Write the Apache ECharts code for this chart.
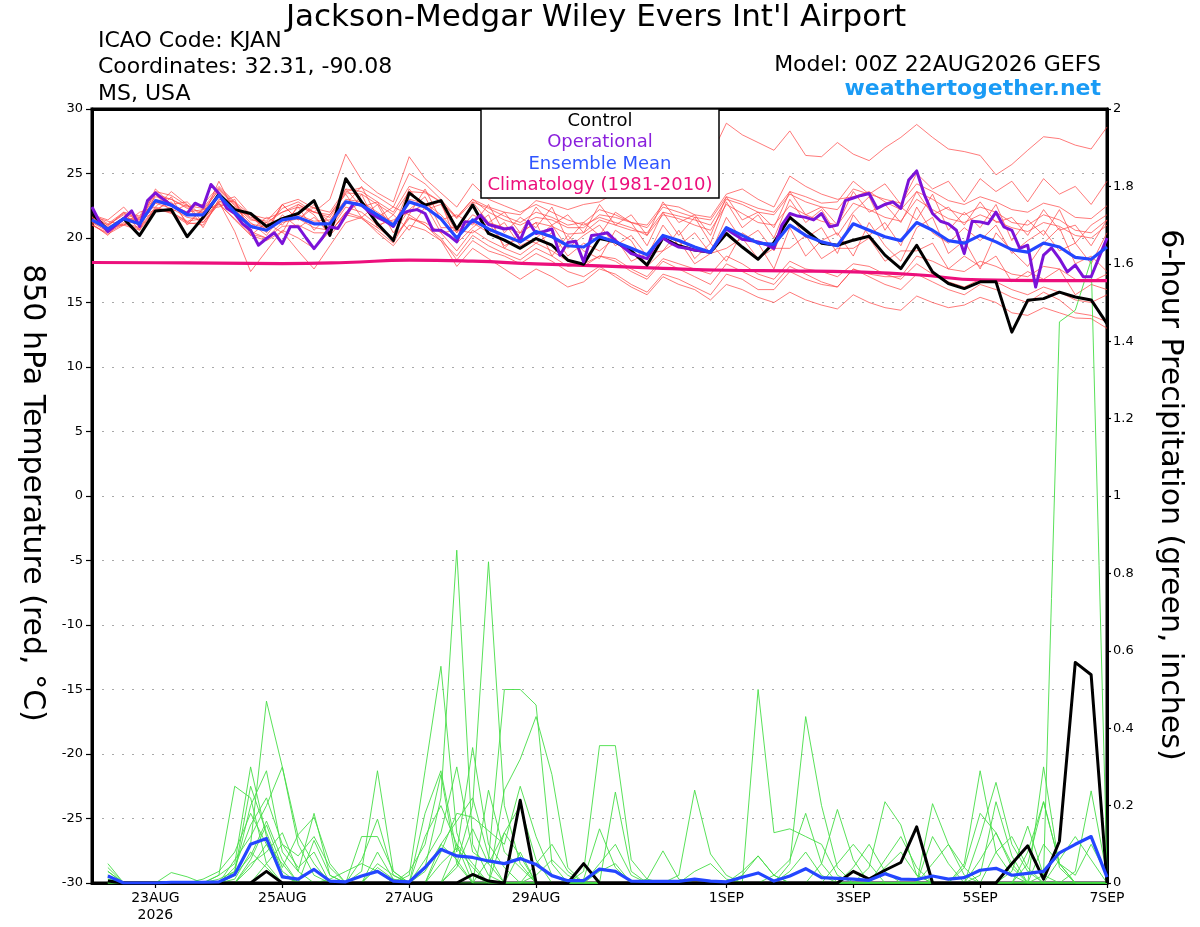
<!DOCTYPE html>
<html>
<head>
<meta charset="utf-8">
<title>KJAN GEFS 850 hPa temperature and precipitation</title>
<script src="https://cdn.jsdelivr.net/npm/echarts@6.0.0/dist/echarts.min.js"></script>
<style>
  html, body { margin: 0; padding: 0; background: #fff; }
  #chart { width: 1200px; height: 927px; }
</style>
</head>
<body>
<div id="chart"></div>
<script>
// x axis: hours after 00Z 22AUG2026
var xTickHours = [24, 72, 120, 168, 240, 288, 336, 384];
var xTickLabels = ['23AUG\n2026', '25AUG', '27AUG', '29AUG', '1SEP', '3SEP', '5SEP', '7SEP'];

// control run, 850 hPa temperature, every 6 h from 0 h
var controlTemp = [
  21.9, 20.6, 21.5, 20.2, 22.1, 22.2, 20.1, 21.6,
  23.4, 22.2, 21.9, 20.9, 21.5, 21.9, 22.9, 20.2,
  24.6, 22.8, 21.1, 19.8, 23.5, 22.55, 22.9, 20.7,
  22.55, 20.35, 19.83, 19.2, 19.96, 19.44, 18.28, 17.97,
  19.96, 19.7, 19.0, 17.9, 20.0, 19.4, 19.06, 18.9,
  20.35, 19.3, 18.35, 19.65, 21.6, 20.6, 19.6, 19.44,
  19.83, 20.14, 18.67, 17.63, 19.44, 17.37, 16.47, 16.08,
  16.6, 16.6, 12.7, 15.17, 15.3, 15.8, 15.43, 15.2, 13.36
];

// ensemble mean temperature, every 6 h from 0 h
var meanTemp = [
  21.4, 20.7, 21.5, 21.1, 22.9, 22.55, 21.8, 21.8,
  23.3, 22.0, 20.9, 20.6, 21.4, 21.6, 21.1, 21.1,
  22.8, 22.55, 21.8, 21.0, 22.8, 22.4, 21.5, 20.0,
  21.4, 20.7, 20.2, 19.7, 20.5, 20.1, 19.4, 19.3,
  20.1, 19.7, 19.2, 18.7, 20.2, 19.8, 19.3, 18.9,
  20.8, 20.2, 19.6, 19.5, 21.0, 20.2, 19.7, 19.4,
  21.1, 20.6, 20.1, 19.8, 21.2, 20.6, 19.8, 19.6,
  20.2, 19.7, 19.1, 18.9, 19.6, 19.3, 18.5, 18.35, 19.3
];

// operational run temperature, every 3 h from 0 h
var operationalTemp = [
  22.4, 21.2, 20.5, 21.0, 21.5, 22.1, 20.9, 22.9, 23.5, 23.0, 22.55, 22.2, 21.9, 22.7, 22.4, 24.15,
  23.45, 22.3, 21.9, 21.1, 20.6, 19.44, 19.96, 20.4, 19.57, 20.87, 20.87, 20.0, 19.18, 19.96, 20.87, 20.74,
  21.77, 22.68, 22.55, 22.0, 21.6, 21.3, 20.9, 21.9, 22.1, 22.2, 21.9, 20.6, 20.6, 20.2, 19.7, 21.25,
  21.25, 21.77, 21.05, 20.87, 20.7, 20.8, 19.83, 21.3, 20.35, 20.5, 20.7, 18.67, 19.65, 19.75, 18.15, 20.2,
  20.27, 20.4, 19.8, 19.3, 18.8, 18.6, 18.4, 19.4, 20.0, 19.6, 19.3, 19.2, 19.06, 19.0, 18.9, 19.8,
  20.7, 20.3, 19.9, 19.8, 19.7, 19.5, 19.2, 21.0, 21.9, 21.7, 21.6, 21.4, 21.9, 20.87, 21.0, 22.9,
  23.1, 23.3, 23.45, 22.3, 22.6, 22.8, 22.3, 24.5, 25.2, 23.3, 21.9, 21.3, 21.1, 20.6, 18.8, 21.3,
  21.25, 21.1, 22.0, 20.87, 20.6, 19.2, 19.44, 16.2, 18.67, 19.24, 18.4, 17.37, 17.9, 17.0, 17.0, 18.5,
  20.0
];

// 1981-2010 climatology, every 24 h from 0 h
var climHours = [0, 24, 48, 72, 96, 120, 144, 168, 192, 216, 240, 264, 288, 312, 336, 360, 384];
var climTemp = [18.1, 18.08, 18.05, 18.02, 18.1, 18.28, 18.2, 18.0, 17.84, 17.65, 17.5, 17.45, 17.37, 17.15, 16.75, 16.7, 16.7];

// ensemble members, temperature, every 6 h from 0 h
var redMembers = [
  [21.8, 21.0, 21.9, 21.6, 23.4, 23.0, 22.3, 22.0, 23.8, 22.6, 21.5, 21.0, 22.3, 22.8, 22.0, 21.6,
   23.5, 23.4, 22.6, 21.8, 23.6, 23.5, 22.8, 21.6, 23.0, 22.4, 22.0, 21.8, 22.9, 22.6, 22.2, 22.6,
   22.8, 23.5, 24.6, 24.0, 25.5, 26.2, 26.8, 26.3, 28.9, 28.0, 27.4, 26.8, 28.3, 26.4, 26.3, 27.4,
   26.5, 26.0, 27.0, 27.8, 28.8, 27.8, 26.9, 26.7, 26.4, 24.9, 25.7, 26.8, 27.85, 27.7, 27.2, 26.9, 28.6],
  [21.0, 20.3, 21.0, 20.6, 22.2, 22.0, 21.2, 21.0, 22.8, 20.5, 17.4, 19.0, 20.6, 20.0, 19.2, 20.5,
   21.8, 21.5, 20.6, 19.6, 21.8, 21.0, 20.0, 18.3, 19.8, 19.0, 18.6, 18.0, 18.8, 18.2, 17.4, 17.0,
   17.8, 17.0, 16.2, 15.6, 17.0, 16.4, 16.0, 15.2, 16.4, 16.0, 15.4, 15.0, 15.8, 15.2, 14.8, 14.5,
   15.6, 15.0, 14.6, 14.4, 15.5, 15.0, 14.6, 14.8, 15.4, 15.0, 14.2, 14.0, 14.6, 14.2, 13.8, 13.75, 13.0],
  [21.2, 20.5, 21.2, 20.8, 22.4, 22.0, 21.3, 21.5, 22.7, 21.4, 20.2, 19.8, 20.5, 19.0, 17.6, 19.4,
   21.2, 21.6, 20.4, 19.4, 21.0, 20.6, 19.8, 18.6, 20.2, 19.4, 18.8, 18.3, 19.2, 18.6, 17.8, 18.0,
   18.6, 18.4, 17.6, 17.0, 18.4, 18.0, 17.6, 17.2, 18.6, 18.0, 17.2, 16.8, 18.2, 17.6, 17.4, 17.0,
   18.0, 17.8, 17.2, 16.8, 18.0, 17.2, 16.6, 16.2, 16.8, 16.6, 16.0, 15.6, 16.2, 15.8, 15.2, 15.0, 15.6],
  [21.6, 21.0, 21.8, 21.5, 23.2, 23.0, 22.4, 22.6, 24.0, 22.8, 21.8, 21.5, 22.0, 22.4, 22.0, 23.0,
   26.5, 24.5, 23.5, 22.8, 26.3, 24.6, 23.5, 22.4, 24.2, 23.0, 22.5, 22.0, 22.6, 22.0, 21.4, 21.0,
   21.6, 21.2, 20.8, 20.2, 21.8, 21.5, 21.0, 20.6, 22.6, 21.9, 21.2, 21.0, 22.5, 21.8, 21.3, 21.0,
   22.7, 22.2, 21.6, 21.3, 23.0, 22.2, 21.5, 21.2, 21.8, 21.3, 20.8, 20.5, 21.2, 20.9, 20.2, 20.0, 21.0],
  [21.1, 20.2, 21.6, 21.4, 22.0, 23.2, 21.0, 22.3, 22.4, 23.0, 20.2, 21.2, 20.4, 22.6, 21.8, 20.2,
   21.6, 23.4, 20.8, 21.8, 20.6, 22.4, 22.8, 19.6, 20.8, 21.8, 19.2, 20.4, 21.2, 18.6, 20.2, 19.0,
   18.4, 20.6, 19.8, 17.8, 19.0, 20.6, 18.4, 19.6, 18.2, 20.4, 19.6, 17.6, 20.8, 18.6, 19.8, 20.4,
   18.6, 21.2, 19.4, 18.2, 20.8, 21.6, 18.8, 19.8, 17.6, 20.4, 19.0, 17.8, 19.6, 20.8, 18.0, 18.6, 17.4],
  [21.7, 21.3, 21.0, 22.0, 22.4, 23.6, 22.6, 21.2, 22.8, 23.2, 21.8, 20.4, 22.6, 21.4, 22.6, 20.8,
   22.6, 24.0, 21.6, 22.4, 21.8, 23.8, 21.4, 21.8, 21.0, 22.6, 20.4, 21.6, 20.8, 22.4, 19.8, 21.2,
   20.2, 22.0, 21.2, 19.4, 22.0, 20.2, 21.6, 19.6, 22.8, 20.8, 21.8, 20.0, 23.0, 21.2, 22.2, 20.2,
   22.0, 23.2, 20.6, 22.4, 21.4, 23.4, 20.6, 22.0, 20.8, 22.6, 19.8, 21.4, 20.2, 22.2, 19.6, 21.0, 21.8],
  [21.3, 20.6, 21.4, 21.0, 22.7, 22.3, 21.6, 21.4, 22.9, 21.8, 20.5, 20.0, 21.2, 21.5, 20.8, 20.6,
   22.4, 22.0, 21.0, 20.0, 21.6, 21.0, 19.8, 17.8, 19.2, 18.4, 17.6, 16.8, 17.6, 17.0, 16.2, 16.6,
   17.6, 17.2, 16.4, 15.8, 17.2, 16.8, 16.2, 15.6, 17.2, 16.8, 16.0, 16.0, 17.4, 16.8, 16.4, 16.2,
   17.6, 17.2, 17.0, 17.0, 18.6, 18.2, 17.6, 17.4, 18.2, 17.8, 17.2, 17.0, 17.8, 17.6, 16.8, 16.6, 17.2],
  [21.5, 20.8, 21.6, 21.2, 22.8, 22.5, 21.8, 22.0, 23.3, 22.1, 21.1, 20.8, 21.5, 21.8, 21.3, 21.4,
   23.0, 22.8, 22.0, 21.2, 23.0, 22.7, 21.8, 20.4, 21.8, 21.2, 20.8, 20.4, 21.2, 20.9, 20.3, 20.4,
   21.4, 21.0, 20.6, 20.4, 22.0, 21.7, 21.4, 21.0, 23.0, 22.6, 22.0, 21.8, 23.4, 22.8, 22.4, 22.2,
   23.8, 23.4, 23.0, 22.7, 24.2, 23.6, 22.9, 22.6, 23.2, 22.8, 22.2, 22.0, 22.7, 22.4, 21.6, 21.5, 22.5],
  [21.9, 21.1, 22.0, 21.7, 23.6, 23.3, 22.5, 22.3, 23.9, 22.7, 21.6, 21.3, 22.6, 23.0, 22.3, 22.0,
   23.8, 23.6, 22.8, 22.0, 24.0, 23.6, 22.8, 21.5, 22.8, 22.3, 21.7, 21.2, 22.0, 21.6, 21.0, 21.2,
   22.2, 21.8, 21.2, 20.8, 22.4, 22.0, 21.6, 21.4, 23.2, 22.8, 22.3, 22.0, 23.6, 23.2, 22.7, 22.8,
   24.4, 23.4, 24.2, 22.6, 25.0, 23.8, 24.4, 22.8, 24.6, 23.6, 24.4, 22.8, 24.6, 23.4, 24.0, 22.6, 24.4],
  [21.0, 20.4, 21.1, 20.7, 22.3, 21.9, 21.1, 21.2, 22.6, 21.5, 20.3, 20.0, 20.9, 21.0, 20.4, 20.4,
   22.0, 21.6, 20.8, 19.9, 21.5, 21.2, 20.4, 19.0, 20.6, 19.8, 19.2, 18.7, 19.6, 19.0, 18.2, 17.8,
   18.6, 18.2, 17.4, 16.8, 18.2, 17.6, 17.0, 16.4, 18.0, 17.4, 16.8, 16.4, 17.8, 17.2, 16.6, 16.2,
   17.6, 17.0, 16.4, 16.0, 17.2, 16.6, 16.0, 15.6, 16.4, 16.0, 15.4, 15.0, 15.8, 15.2, 14.2, 14.0, 13.5],
  [21.4, 20.9, 22.0, 20.6, 23.4, 22.0, 22.6, 20.8, 23.0, 22.8, 20.6, 21.6, 21.0, 22.4, 20.6, 21.8,
   23.4, 21.6, 22.6, 20.4, 22.2, 23.2, 20.8, 20.8, 21.2, 20.4, 21.2, 19.4, 20.0, 21.0, 19.2, 20.2,
   21.0, 19.4, 20.2, 18.6, 21.0, 19.4, 20.4, 18.8, 21.6, 19.8, 20.6, 19.0, 21.8, 20.0, 20.8, 18.8,
   21.8, 20.2, 21.2, 19.4, 22.4, 20.4, 19.6, 20.8, 19.8, 21.0, 18.8, 19.8, 20.6, 19.0, 19.6, 18.0, 20.4],
  [21.6, 20.8, 21.5, 21.4, 23.0, 22.6, 22.0, 22.2, 23.7, 22.5, 21.4, 21.2, 22.0, 22.6, 22.0, 21.8,
   23.6, 23.9, 23.2, 22.4, 25.0, 24.2, 23.0, 21.6, 23.0, 22.0, 21.4, 21.0, 21.6, 21.4, 20.8, 20.8,
   21.8, 21.6, 21.2, 21.0, 22.6, 22.4, 21.8, 21.6, 23.4, 23.8, 23.0, 22.4, 24.8, 24.0, 23.4, 23.0,
   23.2, 23.6, 22.8, 22.2, 23.6, 23.0, 22.2, 21.8, 22.4, 22.0, 21.2, 21.0, 21.8, 21.4, 20.6, 20.4, 21.4],
  [21.2, 20.8, 21.0, 21.6, 22.2, 22.8, 21.2, 22.2, 22.6, 22.4, 21.2, 20.2, 21.8, 20.8, 21.6, 20.4,
   22.0, 22.8, 21.0, 21.4, 22.0, 22.6, 20.4, 20.6, 20.4, 21.2, 19.4, 20.0, 19.6, 20.4, 18.6, 19.6,
   19.0, 20.0, 18.2, 18.8, 19.0, 19.8, 18.0, 18.8, 19.2, 20.0, 18.4, 19.2, 19.2, 20.2, 18.4, 19.2,
   19.2, 20.0, 18.2, 19.0, 19.0, 19.6, 17.6, 18.6, 17.8, 18.6, 16.6, 17.4, 16.8, 17.6, 15.6, 16.4, 16.0],
  [21.8, 21.4, 22.4, 21.0, 23.8, 22.6, 22.8, 21.6, 24.4, 22.0, 21.8, 20.6, 22.6, 21.4, 22.4, 21.2,
   23.8, 22.4, 22.8, 20.8, 23.8, 22.2, 22.6, 20.4, 22.8, 21.2, 22.0, 20.4, 22.4, 21.0, 21.8, 20.4,
   22.6, 21.0, 21.8, 20.2, 22.8, 21.2, 21.8, 20.2, 23.2, 21.4, 22.0, 20.8, 23.6, 21.8, 22.4, 21.0,
   23.6, 22.0, 22.6, 21.2, 23.6, 21.8, 22.4, 21.0, 22.8, 21.2, 21.6, 20.2, 22.2, 20.6, 21.0, 19.4, 21.4]
];

// control run 6-hour precipitation, every 6 h from 6 h
var controlPrecip = [
  0.005, 0, 0, 0, 0, 0, 0, 0, 0, 0, 0.03, 0, 0, 0, 0, 0,
  0, 0, 0, 0, 0, 0, 0, 0.022, 0.005, 0, 0.214, 0, 0, 0, 0.05, 0,
  0, 0, 0, 0, 0, 0, 0, 0, 0, 0, 0, 0, 0, 0, 0, 0.03,
  0.01, 0.033, 0.053, 0.145, 0, 0, 0, 0, 0, 0.05, 0.096, 0.01, 0.108, 0.57, 0.538, 0
];

// ensemble mean 6-hour precipitation, every 6 h from 6 h
var meanPrecip = [
  0.018, 0, 0, 0, 0.002, 0.002, 0.002, 0.003,
  0.022, 0.10, 0.115, 0.016, 0.01, 0.035, 0.005, 0.003,
  0.018, 0.03, 0.005, 0.003, 0.04, 0.087, 0.07, 0.066,
  0.057, 0.05, 0.063, 0.048, 0.019, 0.006, 0.006, 0.036,
  0.03, 0.005, 0.004, 0.004, 0.004, 0.01, 0.005, 0.003,
  0.015, 0.026, 0.005, 0.018, 0.037, 0.014, 0.012, 0.01,
  0.007, 0.024, 0.01, 0.009, 0.018, 0.01, 0.014, 0.033,
  0.038, 0.02, 0.025, 0.03, 0.078, 0.1, 0.12, 0.015
];

// ensemble members precipitation: [hour, inches], hours not listed are dry
var greenMembers = [
  [[6, 0.04], [48, 0.02], [54, 0.05], [60, 0.3], [66, 0.12], [72, 0.02], [126, 0.04], [132, 0.22], [138, 0.86], [144, 0.1], [150, 0.02], [192, 0.03], [198, 0.05], [330, 0.05], [336, 0.29], [342, 0.08], [348, 0.02]],
  [[6, 0.03], [54, 0.02], [60, 0.1], [66, 0.47], [72, 0.3], [78, 0.1], [84, 0.02], [138, 0.05], [144, 0.2], [150, 0.83], [156, 0.2], [162, 0.05], [264, 0.03], [270, 0.08], [276, 0.02], [354, 0.05], [360, 0.21], [366, 0.05]],
  [[6, 0.02], [48, 0.02], [54, 0.25], [60, 0.22], [66, 0.05], [102, 0.03], [108, 0.29], [114, 0.03], [150, 0.06], [156, 0.5], [162, 0.5], [168, 0.46], [174, 0.05], [294, 0.04], [300, 0.21], [306, 0.15], [312, 0.02]],
  [[6, 0.05], [30, 0.027], [36, 0.016], [54, 0.03], [60, 0.2], [66, 0.29], [72, 0.08], [78, 0.03], [84, 0.18], [90, 0.02], [120, 0.02], [126, 0.29], [132, 0.56], [138, 0.13], [144, 0.02], [246, 0.02], [252, 0.07], [258, 0.02], [348, 0.03], [354, 0.147], [360, 0.02]],
  [[6, 0.01], [54, 0.06], [60, 0.12], [66, 0.2], [72, 0.3], [78, 0.12], [84, 0.05], [102, 0.06], [108, 0.165], [114, 0.02], [126, 0.18], [132, 0.29], [138, 0.08], [144, 0.35], [150, 0.1], [156, 0.04], [186, 0.03], [192, 0.355], [198, 0.355], [204, 0.06], [210, 0.01], [318, 0.205], [324, 0.1], [330, 0.02]],
  [[60, 0.06], [66, 0.15], [72, 0.04], [78, 0.125], [84, 0.17], [90, 0.05], [120, 0.03], [126, 0.1], [132, 0.28], [138, 0.05], [156, 0.24], [162, 0.32], [168, 0.43], [174, 0.28], [180, 0.04], [252, 0.5], [258, 0.13], [264, 0.14], [270, 0.12], [276, 0.1], [282, 0.02], [336, 0.12], [342, 0.26], [348, 0.1], [354, 0.03]],
  [[6, 0.02], [42, 0.01], [48, 0.03], [54, 0.08], [60, 0.18], [66, 0.1], [72, 0.02], [102, 0.12], [108, 0.12], [114, 0.03], [132, 0.08], [138, 0.18], [144, 0.17], [150, 0.135], [156, 0.1], [162, 0.25], [168, 0.12], [174, 0.02], [222, 0.02], [228, 0.24], [234, 0.075], [240, 0.02], [264, 0.05], [270, 0.43], [276, 0.2], [282, 0.04], [372, 0.03], [378, 0.238], [384, 0.02]],
  [[54, 0.02], [60, 0.07], [66, 0.16], [72, 0.06], [84, 0.11], [90, 0.02], [126, 0.06], [132, 0.13], [138, 0.3], [144, 0.08], [150, 0.05], [156, 0.13], [162, 0.07], [198, 0.235], [204, 0.03], [276, 0.05], [282, 0.19], [288, 0.06], [360, 0.3], [366, 0.04]],
  [[6, 0.03], [60, 0.04], [66, 0.1], [72, 0.05], [138, 0.04], [144, 0.14], [150, 0.05], [210, 0.01], [216, 0.083], [222, 0.01], [318, 0.12], [324, 0.05], [360, 0.02], [366, 1.45], [372, 1.48], [378, 1.61], [384, 0.03]],
  [[54, 0.04], [60, 0.15], [66, 0.22], [72, 0.1], [78, 0.04], [84, 0.08], [108, 0.05], [114, 0.02], [126, 0.12], [132, 0.2], [138, 0.1], [162, 0.08], [186, 0.01], [192, 0.14], [198, 0.04], [300, 0.06], [306, 0.12], [312, 0.04], [336, 0.02], [342, 0.21], [348, 0.07], [366, 0.06], [372, 0.12], [378, 0.06]],
  [[6, 0.02], [60, 0.05], [66, 0.08], [72, 0.13], [78, 0.03], [108, 0.08], [114, 0.01], [132, 0.1], [138, 0.16], [144, 0.22], [150, 0.07], [168, 0.05], [174, 0.1], [180, 0.03], [246, 0.03], [252, 0.07], [258, 0.02], [330, 0.04], [336, 0.18], [342, 0.13], [348, 0.05], [360, 0.1], [366, 0.05]],
  [[66, 0.05], [72, 0.1], [78, 0.07], [84, 0.12], [90, 0.04], [126, 0.03], [132, 0.1], [138, 0.06], [150, 0.24], [156, 0.08], [162, 0.04], [192, 0.05], [198, 0.1], [204, 0.02], [258, 0.02], [264, 0.06], [270, 0.18], [276, 0.05], [300, 0.04], [306, 0.08], [312, 0.02], [342, 0.08], [348, 0.12], [354, 0.04]],
  [[54, 0.01], [60, 0.08], [66, 0.04], [108, 0.04], [114, 0.01], [138, 0.1], [144, 0.05], [156, 0.13], [162, 0.2], [168, 0.06], [228, 0.03], [234, 0.05], [240, 0.01], [288, 0.04], [294, 0.1], [300, 0.03], [318, 0.05], [324, 0.1], [330, 0.04], [354, 0.08], [360, 0.21], [366, 0.05], [372, 0.02], [378, 0.1], [384, 0.02]],
  [[6, 0.01], [48, 0.01], [54, 0.03], [60, 0.25], [66, 0.13], [72, 0.03], [90, 0.01], [96, 0.03], [102, 0.05], [108, 0.03], [132, 0.05], [138, 0.09], [144, 0.04], [168, 0.02], [174, 0.06], [180, 0.02], [282, 0.05], [288, 0.1], [294, 0.05], [336, 0.06], [342, 0.13], [348, 0.04]]
];

// colours
var red = 'rgba(255,70,70,0.8)';
var green = 'rgb(70,222,70)';
var purple = '#7b12d8';
var blue = '#2446ff';
var pink = '#ec0f7c';
var font = 'DejaVu Sans';

// time grids (hours)
var tempHours = [];
for (var h = 0; h <= 384; h += 6) tempHours.push(h);
var precipHours = [];
for (var h = 6; h <= 384; h += 6) precipHours.push(h);
var opHours = [];
for (var h = 0; h <= 384; h += 3) opHours.push(h);

function pairs(hours, values) {
    return hours.map(function (t, i) { return [t, values[i]]; });
}
function expandSparse(list) {
    var out = precipHours.map(function (t) { return [t, 0]; });
    list.forEach(function (p) { out[(p[0] - 6) / 6][1] = p[1]; });
    return out;
}
function line(data, axis, color, width, z, smooth) {
    return {
        type: 'line', yAxisIndex: axis, data: data, symbol: 'none', silent: true,
        smooth: !!smooth, z: z,
        lineStyle: { color: color, width: width, join: width > 2 ? 'round' : 'miter' }
    };
}

var series = [];
redMembers.forEach(function (m) { series.push(line(pairs(tempHours, m), 0, red, 0.9, 2)); });
greenMembers.forEach(function (m) { series.push(line(expandSparse(m), 1, green, 0.9, 2)); });
series.push(line(pairs(climHours, climTemp), 0, pink, 3.2, 3, true));
series.push(line(pairs(precipHours, controlPrecip), 1, '#000', 3, 4));
series.push(line(pairs(precipHours, meanPrecip), 1, blue, 3.2, 5));
series.push(line(pairs(tempHours, controlTemp), 0, '#000', 3, 4));
series.push(line(pairs(opHours, operationalTemp), 0, purple, 3, 4));
series.push(line(pairs(tempHours, meanTemp), 0, blue, 3.2, 5));

var chart = echarts.init(document.getElementById('chart'));
var option = {
    animation: false,
    backgroundColor: '#fff',
    textStyle: { fontFamily: font },
    grid: { left: 92, right: 93, top: 109, bottom: 44, show: true, borderColor: '#000', borderWidth: 3 },
    xAxis: [{
        type: 'value', min: 0, max: 384,
        axisLine: { onZero: false, lineStyle: { color: '#000', width: 3 } },
        axisTick: { customValues: xTickHours, length: 5, lineStyle: { color: '#000', width: 1.2 } },
        axisLabel: {
            customValues: xTickHours, margin: 7, color: '#000', fontSize: 14, lineHeight: 17, fontFamily: font,
            formatter: function (v) { return xTickLabels[xTickHours.indexOf(v)]; }
        },
        splitLine: { show: false }
    }, {
        // top frame edge
        type: 'value', min: 0, max: 384, position: 'top',
        axisLine: { show: true, onZero: false, lineStyle: { color: '#000', width: 3 } },
        axisTick: { show: false }, axisLabel: { show: false }, splitLine: { show: false }
    }],
    yAxis: [{
        type: 'value', min: -30, max: 30, interval: 5, position: 'left',
        axisLine: { show: true, onZero: false, lineStyle: { color: '#000', width: 3 } },
        axisTick: { show: true, length: 6, lineStyle: { color: '#000', width: 1.2 } },
        axisLabel: { color: '#000', fontSize: 13, margin: 9, fontFamily: font },
        splitLine: { show: true, showMinLine: false, showMaxLine: false, lineStyle: { color: '#a8a8a8', width: 1, type: [2, 8] } }
    }, {
        type: 'value', min: 0, max: 2, interval: 0.2, position: 'right',
        axisLine: { show: true, onZero: false, lineStyle: { color: '#000', width: 3 } },
        axisTick: { show: true, length: 4, lineStyle: { color: '#000', width: 1.2 } },
        axisLabel: {
            color: '#000', fontSize: 13, margin: 6, fontFamily: font,
            formatter: function (v) { return String(+v.toFixed(1)); }
        },
        splitLine: { show: false }
    }],
    graphic: [
        { type: 'text', x: 596, y: 18, z: 10, style: { text: "Jackson-Medgar Wiley Evers Int'l Airport", fill: '#000', font: '31px "DejaVu Sans"', align: 'center', verticalAlign: 'middle' } },
        { type: 'text', x: 98, y: 41, z: 10, style: { text: 'ICAO Code: KJAN', fill: '#000', font: '22px "DejaVu Sans"', align: 'left', verticalAlign: 'middle' } },
        { type: 'text', x: 98, y: 67, z: 10, style: { text: 'Coordinates: 32.31, -90.08', fill: '#000', font: '22px "DejaVu Sans"', align: 'left', verticalAlign: 'middle' } },
        { type: 'text', x: 98, y: 94, z: 10, style: { text: 'MS, USA', fill: '#000', font: '22px "DejaVu Sans"', align: 'left', verticalAlign: 'middle' } },
        { type: 'text', x: 1101, y: 65, z: 10, style: { text: 'Model: 00Z 22AUG2026 GEFS', fill: '#000', font: '22px "DejaVu Sans"', align: 'right', verticalAlign: 'middle' } },
        { type: 'text', x: 1101, y: 89, z: 10, style: { text: 'weathertogether.net', fill: '#1a9bf5', font: 'bold 22px "DejaVu Sans"', align: 'right', verticalAlign: 'middle' } },
        // legend box
        { type: 'rect', z: 20, shape: { x: 481, y: 109, width: 238, height: 89 }, style: { fill: '#fff', stroke: '#000', lineWidth: 1.5 } },
        { type: 'text', x: 600, y: 121, z: 21, style: { text: 'Control', fill: '#000', font: '18px "DejaVu Sans"', align: 'center', verticalAlign: 'middle' } },
        { type: 'text', x: 600, y: 142, z: 21, style: { text: 'Operational', fill: '#8a1fdc', font: '18px "DejaVu Sans"', align: 'center', verticalAlign: 'middle' } },
        { type: 'text', x: 600, y: 164, z: 21, style: { text: 'Ensemble Mean', fill: '#2f55ff', font: '18px "DejaVu Sans"', align: 'center', verticalAlign: 'middle' } },
        { type: 'text', x: 600, y: 185, z: 21, style: { text: 'Climatology (1981-2010)', fill: '#ec0f7c', font: '18px "DejaVu Sans"', align: 'center', verticalAlign: 'middle' } },
        // axis titles, reading top to bottom
        { type: 'text', x: 32, y: 493, rotation: -Math.PI / 2, z: 10, style: { text: '850 hPa Temperature (red, °C)', fill: '#000', font: '30px "DejaVu Sans"', align: 'center', verticalAlign: 'middle' } },
        { type: 'text', x: 1170, y: 495, rotation: -Math.PI / 2, z: 10, style: { text: '6-hour Precipitation (green, inches)', fill: '#000', font: '30px "DejaVu Sans"', align: 'center', verticalAlign: 'middle' } }
    ],
    series: series
};
chart.setOption(option);
</script>
</body>
</html>
